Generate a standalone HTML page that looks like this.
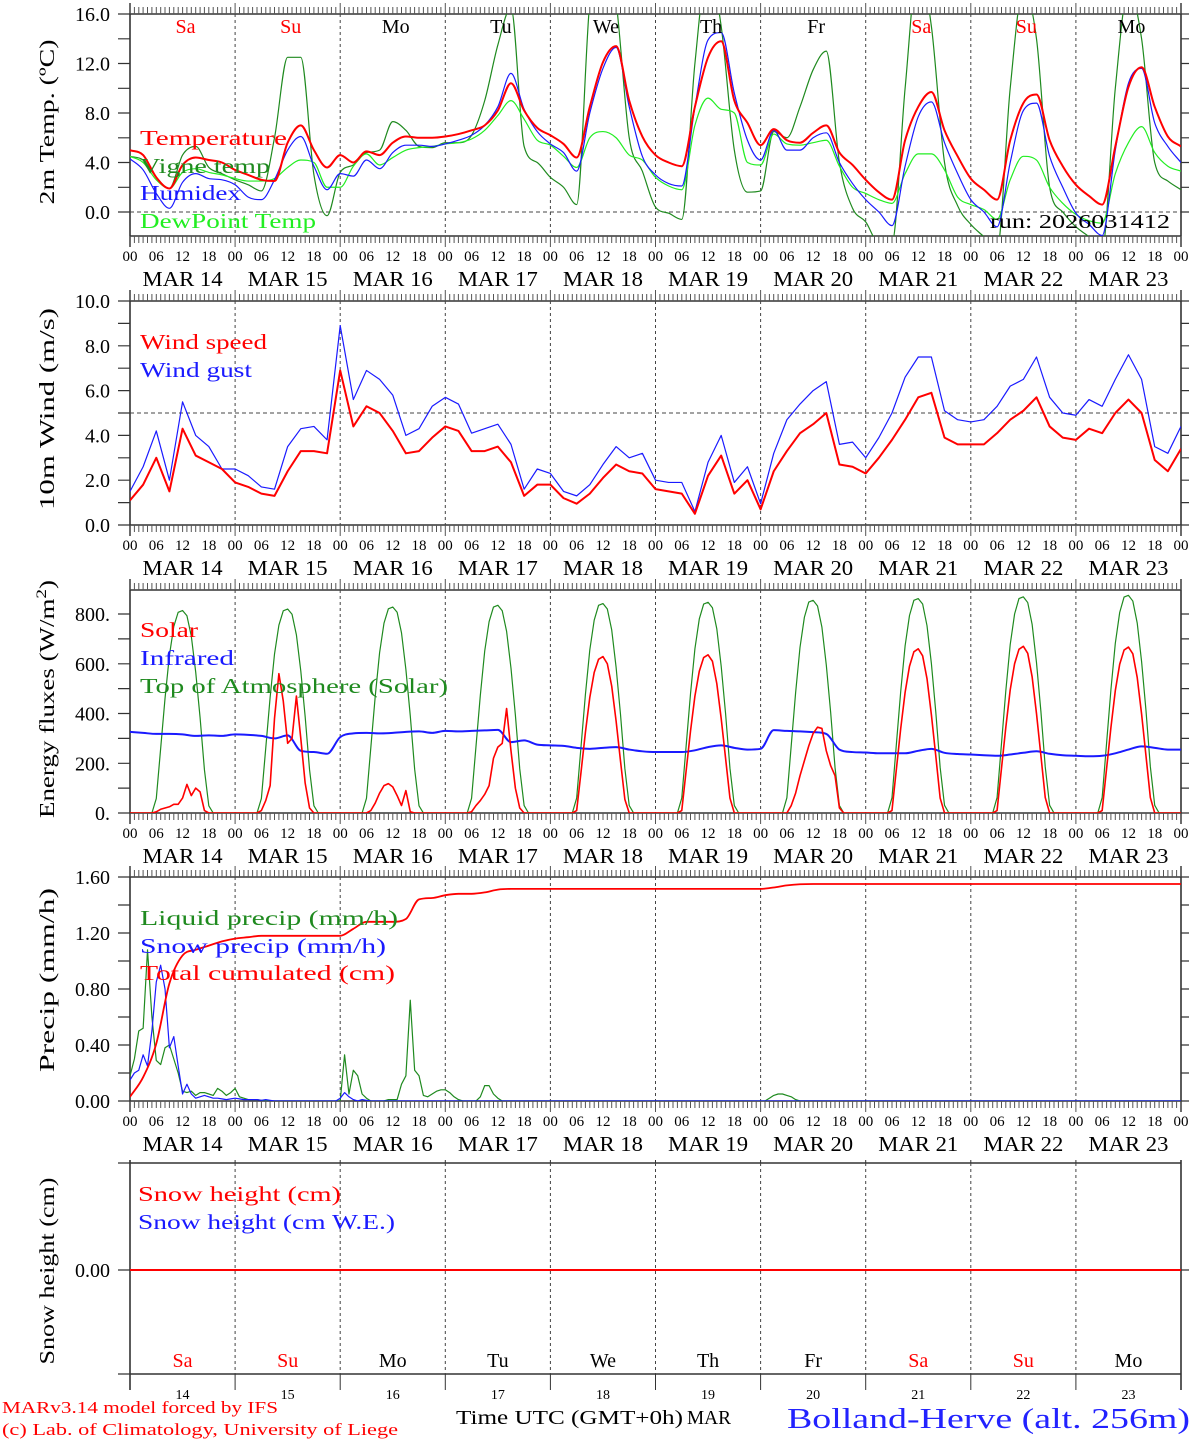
<!DOCTYPE html>
<html><head><meta charset="utf-8"><title>MAR forecast Bolland-Herve</title>
<style>
html,body{margin:0;padding:0;background:#fff;}
svg{display:block;font-family:"Liberation Serif",serif;}
</style></head>
<body>
<svg id="chart" width="1194" height="1440" viewBox="0 0 1194 1440" xmlns="http://www.w3.org/2000/svg">
<rect x="0" y="0" width="1194" height="1440" fill="#fff"/>
<defs id="defs"></defs>
</svg>
<script>
// ===== DATA (3-hourly, from 00 UTC MAR 14 to 00 UTC MAR 24) =====
const days = ["14","15","16","17","18","19","20","21","22","23"];
const dayNames = ["Sa","Su","Mo","Tu","We","Th","Fr","Sa","Su","Mo"];
const hourLabels = ["00","06","12","18"];
const tempTicks = ["0.0","4.0","8.0","12.0","16.0"];
const windTicks = ["0.0","2.0","4.0","6.0","8.0","10.0"];
const fluxTicks = ["0.","200.","400.","600.","800."];
const precipTicks = ["0.00","0.40","0.80","1.20","1.60"];

const temperature = [5.0,4.6,2.8,1.9,3.8,4.4,4.2,4.0,
3.4,3.0,2.6,2.5,5.6,7.0,5.0,3.6,
4.6,4.0,4.9,4.6,5.6,6.1,6.0,6.0,
6.1,6.3,6.6,7.0,8.2,10.4,8.2,6.8,
6.2,5.5,4.4,8.5,12.1,13.4,9.0,6.1,
4.6,4.0,3.7,8.5,12.5,13.8,9.0,7.2,
5.4,6.7,5.8,5.6,6.4,7.0,4.8,3.8,
2.6,1.6,1.0,5.8,8.5,9.7,6.6,4.5,
2.7,1.8,1.0,5.8,8.8,9.5,5.8,3.7,
2.2,1.3,0.6,5.3,10.1,11.7,8.5,6.1,
5.3];
const vigneTemp = [4.5,4.2,2.8,1.9,4.6,5.3,3.6,3.1,
2.6,2.2,1.7,6.0,12.5,12.5,3.0,-0.3,
3.2,3.8,4.8,5.0,7.3,6.6,5.3,5.2,
5.6,5.6,6.2,9.0,13.5,16.5,5.3,4.0,
2.8,2.0,0.6,17.0,22.0,17.0,6.0,3.3,
0.4,-0.1,-0.6,12.0,20.0,15.0,5.0,1.6,
1.7,6.5,6.0,8.5,11.5,13.0,4.0,0.3,
-0.8,-2.5,-2.5,10.0,20.0,15.0,4.0,0.5,
-1.0,-2.0,-3.0,10.0,18.0,14.0,2.0,0.0,
-1.2,-2.0,-3.0,10.0,18.0,14.0,4.0,2.5,
1.8];
const humidex = [4.3,3.4,1.5,0.3,2.4,3.1,2.7,2.6,
2.2,1.2,1.0,2.6,5.0,6.1,3.7,1.8,
3.1,2.9,4.2,3.5,4.8,5.4,5.4,5.3,
5.5,5.8,6.2,7.0,8.5,11.2,8.3,6.5,
5.5,4.8,3.3,8.0,11.6,13.3,8.5,4.5,
3.0,2.3,2.1,8.5,13.9,14.5,9.6,5.8,
4.2,6.6,5.0,5.0,6.0,6.4,4.0,2.3,
1.0,0.0,-1.1,3.7,7.7,8.9,5.6,3.1,
1.0,0.0,-1.2,4.0,8.2,8.8,4.5,2.0,
-0.1,-1.0,-1.9,5.0,10.4,11.6,7.2,5.3,
4.0];
const dewPoint = [4.5,4.0,2.6,1.9,3.2,3.5,3.2,3.0,
2.7,2.5,2.5,2.7,3.6,4.2,4.0,2.0,
2.0,3.7,4.7,3.8,4.4,5.0,5.2,5.3,
5.5,5.6,5.9,6.6,7.8,9.0,7.5,5.8,
5.4,4.5,3.6,6.0,6.5,6.0,4.6,4.2,
2.8,2.1,1.8,7.0,9.2,8.3,8.0,4.0,
3.8,6.3,5.5,5.4,5.6,5.8,3.7,2.0,
1.5,1.0,0.7,3.1,4.7,4.7,3.4,1.2,
0.6,0.2,-0.6,2.6,4.5,4.2,2.0,0.7,
-0.2,-0.7,-0.9,3.1,5.6,6.9,4.8,3.7,
3.3];
const windSpeed = [1.1,1.8,3.0,1.5,4.3,3.1,2.8,2.5,
1.9,1.7,1.4,1.3,2.4,3.3,3.3,3.2,
6.9,4.4,5.3,5.0,4.2,3.2,3.3,3.9,
4.4,4.2,3.3,3.3,3.5,2.8,1.3,1.8,
1.8,1.2,0.95,1.4,2.1,2.7,2.4,2.3,
1.6,1.5,1.4,0.5,2.2,3.1,1.4,2.0,
0.7,2.4,3.3,4.1,4.5,5.0,2.7,2.6,
2.3,3.0,3.8,4.7,5.7,5.9,3.9,3.6,
3.6,3.6,4.1,4.7,5.1,5.7,4.4,3.9,
3.8,4.3,4.1,5.0,5.6,5.0,2.9,2.4,
3.4];
const windGust = [1.5,2.6,4.2,2.0,5.5,4.0,3.5,2.5,
2.5,2.2,1.7,1.6,3.5,4.3,4.4,3.8,
8.9,5.6,6.9,6.5,5.8,4.0,4.3,5.3,
5.7,5.4,4.1,4.3,4.5,3.6,1.6,2.5,
2.3,1.5,1.3,1.8,2.7,3.5,3.0,3.2,
2.0,1.9,1.9,0.6,2.8,4.0,1.9,2.6,
0.95,3.2,4.7,5.4,6.0,6.4,3.6,3.7,
3.0,3.9,5.0,6.6,7.5,7.5,5.1,4.7,
4.6,4.7,5.3,6.2,6.5,7.5,5.7,5.0,
4.9,5.6,5.3,6.5,7.6,6.5,3.5,3.2,
4.4];
const infrared = [326,322,318,318,316,310,312,310,
316,314,310,300,312,250,245,238,
305,320,322,320,322,326,328,322,
330,328,330,332,334,285,292,275,
272,270,262,258,262,265,255,248,
245,245,245,252,265,272,262,255,
258,333,330,328,325,318,255,245,
243,240,240,240,250,258,242,237,
235,232,230,235,242,248,238,232,
230,228,230,240,255,268,262,255,
255];
const totalCumulated = [0.03,0.17,0.41,0.84,1.04,1.08,1.11,1.14,
1.16,1.17,1.18,1.18,1.18,1.18,1.18,1.18,
1.18,1.23,1.28,1.28,1.28,1.30,1.44,1.45,
1.47,1.48,1.48,1.49,1.51,1.515,1.515,1.515,
1.515,1.515,1.515,1.515,1.515,1.515,1.515,1.515,
1.515,1.515,1.515,1.515,1.515,1.515,1.515,1.515,
1.515,1.525,1.54,1.548,1.55,1.55,1.55,1.55,
1.55,1.55,1.55,1.55,1.55,1.55,1.55,1.55,
1.55,1.55,1.55,1.55,1.55,1.55,1.55,1.55,
1.55,1.55,1.55,1.55,1.55,1.55,1.55,1.55,
1.55];
// Hourly daylight values, hours 05..19 of each day (W/m2)
const solarDaylight = [
[0,5,15,20,25,35,35,60,115,70,100,85,10,0,0],
[0,10,50,110,380,560,450,280,300,470,300,120,20,0,0],
[0,0,10,40,80,110,118,105,70,30,90,5,0,0,0],
[0,5,30,50,75,110,220,265,280,420,250,100,20,0,0],
[0,10,165,325,465,565,618,629,600,510,370,210,55,0,0],
[0,10,170,330,470,570,625,636,610,520,380,220,60,0,0],
[0,0,30,80,150,210,270,320,345,340,250,190,150,20,0],
[0,10,175,340,485,590,648,660,632,540,395,230,60,0,0],
[0,10,178,345,495,600,658,670,642,548,400,232,62,0,0],
[0,10,177,344,492,598,655,667,640,545,398,230,62,0,0]];
const toaDaylight = [
[0,58,259,461,634,750,807,814,793,711,567,384,173,29,0],
[0,58,261,465,639,755,813,820,799,716,571,387,174,29,0],
[0,59,264,469,645,763,821,828,807,724,577,391,176,29,0],
[0,59,266,473,651,769,828,835,813,730,582,394,177,30,0],
[0,60,268,477,656,775,835,842,820,736,586,398,179,30,0],
[0,60,270,480,660,780,840,847,825,740,590,400,180,30,0],
[0,61,272,484,666,787,848,855,832,747,595,404,182,30,0],
[0,61,275,489,672,794,855,862,840,753,601,407,183,31,0],
[0,62,277,492,677,800,862,869,846,759,605,410,185,31,0],
[0,62,279,496,682,806,868,875,852,764,609,413,186,31,0]];
// Hourly precipitation (mm/h), one row per day (24 values)
const liquidPrecip = [
[0.18,0.30,0.50,0.52,1.08,0.60,0.29,0.26,0.38,0.40,0.30,0.20,0.07,0.06,0.07,0.04,0.06,0.06,0.05,0.04,0.09,0.07,0.04,0.06],
[0.09,0.03,0.02,0.01,0.01,0.01,0.005,0,0,0,0,0,0,0,0,0,0,0,0,0,0,0,0,0],
[0,0.33,0.05,0.22,0.18,0.05,0.02,0,0,0,0,0.01,0.01,0.01,0.12,0.18,0.72,0.22,0.18,0.04,0.03,0.05,0.07,0.08],
[0.08,0.06,0.03,0.01,0,0,0,0,0.03,0.11,0.11,0.05,0.02,0,0,0,0,0,0,0,0,0,0,0],
[0,0,0,0,0,0,0,0,0,0,0,0,0,0,0,0,0,0,0,0,0,0,0,0],
[0,0,0,0,0,0,0,0,0,0,0,0,0,0,0,0,0,0,0,0,0,0,0,0],
[0,0,0.02,0.04,0.05,0.05,0.04,0.03,0.01,0,0,0,0,0,0,0,0,0,0,0,0,0,0,0],
[0,0,0,0,0,0,0,0,0,0,0,0,0,0,0,0,0,0,0,0,0,0,0,0],
[0,0,0,0,0,0,0,0,0,0,0,0,0,0,0,0,0,0,0,0,0,0,0,0],
[0,0,0,0,0,0,0,0,0,0,0,0,0,0,0,0,0,0,0,0,0,0,0,0]];
const snowPrecip = [
[0.15,0.20,0.22,0.33,0.25,0.50,0.85,0.97,0.80,0.38,0.46,0.25,0.05,0.12,0.05,0.02,0.03,0.04,0.03,0.02,0.02,0.015,0.01,0.015],
[0.02,0.015,0.01,0.01,0.01,0.01,0.005,0.01,0.005,0,0,0,0,0,0,0,0,0,0,0,0,0,0,0],
[0.02,0.06,0.03,0.01,0,0.01,0.005,0,0,0,0,0,0,0,0,0,0,0,0,0,0,0,0,0],
[0,0,0,0,0,0,0,0,0,0,0,0,0,0,0,0,0,0,0,0,0,0,0,0],
[0,0,0,0,0,0,0,0,0,0,0,0,0,0,0,0,0,0,0,0,0,0,0,0],
[0,0,0,0,0,0,0,0,0,0,0,0,0,0,0,0,0,0,0,0,0,0,0,0],
[0,0,0,0,0,0,0,0,0,0,0,0,0,0,0,0,0,0,0,0,0,0,0,0],
[0,0,0,0,0,0,0,0,0,0,0,0,0,0,0,0,0,0,0,0,0,0,0,0],
[0,0,0,0,0,0,0,0,0,0,0,0,0,0,0,0,0,0,0,0,0,0,0,0],
[0,0,0,0,0,0,0,0,0,0,0,0,0,0,0,0,0,0,0,0,0,0,0,0]];
const snowHeight = [0,0,0,0,0,0,0,0,0,0,0];

// ===== RENDERING =====
const NS = 'http://www.w3.org/2000/svg';
const svg = document.getElementById('chart');
const defs = document.getElementById('defs');
const X0 = 130, X1 = 1181;
const RED = '#ff0000', BLUE = '#1a1aff', DKGREEN = '#1f8a1f', LIME = '#22ee22', AX = '#333';
function xAt(h){ return X0 + (X1 - X0) * h / 240; }
function mk(tag, attrs, parent){
  const e = document.createElementNS(NS, tag);
  for (const k in attrs) e.setAttribute(k, attrs[k]);
  (parent || svg).appendChild(e);
  return e;
}
function scale(p){ return v => p.y0 + (v - p.v0) * (p.y1 - p.y0) / (p.v1 - p.v0); }

const panels = [
  {id:'temp', top:14, bot:236, v0:0, y0:212, v1:16, y1:14},
  {id:'wind', top:301, bot:525, v0:0, y0:525, v1:10, y1:301},
  {id:'flux', top:590, bot:813, v0:0, y0:813, v1:800, y1:614},
  {id:'precip', top:877, bot:1101, v0:0, y0:1101, v1:1.6, y1:877},
  {id:'snow', top:1163, bot:1374, v0:0, y0:1270, v1:1, y1:1170}
];
panels.forEach(p => {
  const cp = mk('clipPath', {id:'clip-' + p.id}, defs);
  mk('rect', {x:X0, y:p.top, width:X1 - X0, height:p.bot - p.top}, cp);
});

function monoPath(pts){
  const n = pts.length;
  if (n < 2) return '';
  const m = [], t = [];
  for (let i = 0; i < n - 1; i++) m.push((pts[i+1][1] - pts[i][1]) / (pts[i+1][0] - pts[i][0]));
  t[0] = m[0]; t[n-1] = m[n-2];
  for (let i = 1; i < n - 1; i++) t[i] = (m[i-1] * m[i] <= 0) ? 0 : (m[i-1] + m[i]) / 2;
  for (let i = 0; i < n - 1; i++) {
    if (m[i] === 0) { t[i] = 0; t[i+1] = 0; continue; }
    const a = t[i] / m[i], b = t[i+1] / m[i], s = a*a + b*b;
    if (s > 9) { const tau = 3 / Math.sqrt(s); t[i] = tau * a * m[i]; t[i+1] = tau * b * m[i]; }
  }
  let d = 'M' + pts[0][0].toFixed(2) + ',' + pts[0][1].toFixed(2);
  for (let i = 0; i < n - 1; i++) {
    const dx = (pts[i+1][0] - pts[i][0]) / 3;
    d += ' C' + (pts[i][0] + dx).toFixed(2) + ',' + (pts[i][1] + t[i]*dx).toFixed(2) + ' ' +
         (pts[i+1][0] - dx).toFixed(2) + ',' + (pts[i+1][1] - t[i+1]*dx).toFixed(2) + ' ' +
         pts[i+1][0].toFixed(2) + ',' + pts[i+1][1].toFixed(2);
  }
  return d;
}
function linePath(pts){ return pts.map((q, i) => (i ? 'L' : 'M') + q[0].toFixed(2) + ',' + q[1].toFixed(2)).join(' '); }
function pts3h(p, arr){ const y = scale(p); return arr.map((v, i) => [xAt(i * 3), y(v)]); }
function ptsHourlyRows(p, rows){
  const y = scale(p), out = [];
  rows.forEach((row, d) => row.forEach((v, h) => out.push([xAt(d * 24 + h), y(v)])));
  out.push([xAt(240), y(0)]);
  return out;
}
function ptsDaylight(p, rows){
  const y = scale(p), out = [[xAt(0), y(0)]];
  rows.forEach((row, d) => row.forEach((v, j) => out.push([xAt(d * 24 + 5 + j), y(v)])));
  out.push([xAt(240), y(0)]);
  return out;
}
function series(p, d, color, w, name){
  const e = mk('path', {d:d, fill:'none', stroke:color, 'stroke-width':w, 'stroke-linejoin':'round', 'clip-path':'url(#clip-' + p.id + ')'});
  
  
  return e;
}
function text(x, y, s, size, color, anchor, len){
  const e = mk('text', {x:x, y:y, 'font-size':size, fill:color || '#000', 'text-anchor':anchor || 'start'});
  if (len) { e.setAttribute('textLength', len); e.setAttribute('lengthAdjust', 'spacingAndGlyphs'); }
  e.textContent = s;
  return e;
}

// ---- axes / frames ----
function drawFrame(p, hourly){
  let d = 'M' + X0 + ',' + p.top + ' H' + X1 + ' M' + X0 + ',' + p.bot + ' H' + X1 +
          ' M' + X0 + ',' + (p.top - (hourly ? 11 : 3)) + ' V' + (p.bot + (hourly ? 11 : 16)) +
          ' M' + X1 + ',' + (p.top - (hourly ? 11 : 3)) + ' V' + (p.bot + (hourly ? 11 : 16));
  const f = mk('path', {d:d, stroke:AX, 'stroke-width':1.6, fill:'none'});
  
  
  let dd = '';
  for (let k = 1; k < 10; k++) { const x = xAt(k * 24).toFixed(1); dd += 'M' + x + ',' + p.top + ' V' + p.bot + ' '; }
  const ds = mk('path', {d:dd, stroke:'#444', 'stroke-width':1, 'stroke-dasharray':'3,3', fill:'none'});
  
  
  if (hourly) {
    let t = '';
    for (let h = 0; h <= 240; h++) {
      const x = xAt(h).toFixed(1), L = (h % 24 === 0) ? 11 : 7;
      t += 'M' + x + ',' + p.top + ' V' + (p.top - L) + ' M' + x + ',' + p.bot + ' V' + (p.bot + L) + ' ';
    }
    const tk = mk('path', {d:t, stroke:'#555', 'stroke-width':1, fill:'none'});
    
    
  } else {
    let t = '';
    for (let k = 1; k < 10; k++) { const x = xAt(k * 24).toFixed(1); t += 'M' + x + ',' + p.bot + ' V' + (p.bot + 16) + ' M' + x + ',' + p.top + ' V' + (p.top - 3) + ' '; }
    const tk = mk('path', {d:t, stroke:AX, 'stroke-width':1, fill:'none'});
    
    
  }
}
function drawYTicks(p, step, maxV, labels, labelStep){
  const y = scale(p);
  let d = '';
  for (let v = 0; v <= maxV + 1e-9; v += step) {
    const yy = y(v).toFixed(1);
    d += 'M' + (X0 - 12) + ',' + yy + ' H' + X0 + ' M' + X1 + ',' + yy + ' H' + (X1 + 8) + ' ';
  }
  const tk = mk('path', {d:d, stroke:AX, 'stroke-width':1.2, fill:'none'});
  
  
  labels.forEach((s, i) => {
    const t = text(110, y(i * labelStep) + 7, s, 20, '#000', 'end');
    
    
  });
}
function drawTimeLabels(p){
  for (let k = 0; k < 10; k++) {
    hourLabels.forEach((s, j) => {
      const t = text(xAt(k * 24 + j * 6), p.bot + 25, s, 15, '#000', 'middle');
      
      
    });
    const dt = text(xAt(k * 24 + 12), p.bot + 50, 'MAR ' + days[k], 21, '#000', 'middle', 80);
    
    
  }
  const t = text(xAt(240), p.bot + 25, '00', 15, '#000', 'middle');
  
  
}
function yTitle(cy, s, len, name){
  const t = mk('text', {x:0, y:0, 'font-size':21, fill:'#000', 'text-anchor':'middle',
    transform:'translate(54,' + cy + ') rotate(-90)', textLength:len, lengthAdjust:'spacingAndGlyphs'});
  t.textContent = s;
  
  
  return t;
}
function hDashed(p, v, name){
  const yy = scale(p)(v);
  const e = mk('line', {x1:X0, x2:X1, y1:yy, y2:yy, stroke:'#444', 'stroke-width':1, 'stroke-dasharray':'4,3'});
  
  
}
function legend(x, y, s, color, len, name){
  const t = text(x, y, s, 21, color, 'start', len);
  
  
}

// ---- Panel 1: temperature ----
const P1 = panels[0];
drawFrame(P1, true);
drawYTicks(P1, 2, 16, tempTicks, 4);
hDashed(P1, 0, 'zero-line');
drawTimeLabels(P1);
yTitle(122, '2m Temp. (ºC)', 165, 'y-axis-title-temp');
series(P1, monoPath(pts3h(P1, vigneTemp)), DKGREEN, 1.2, 'vigne-temp-line');
series(P1, monoPath(pts3h(P1, dewPoint)), LIME, 1.2, 'dewpoint-line');
series(P1, monoPath(pts3h(P1, humidex)), BLUE, 1.2, 'humidex-line');
series(P1, monoPath(pts3h(P1, temperature)), RED, 2, 'temperature-line');
legend(140, 145, 'Temperature', RED, 147, 'legend-temperature');
legend(140, 173, 'Vigne temp', DKGREEN, 130, 'legend-vigne-temp');
legend(140, 200, 'Humidex', BLUE, 101, 'legend-humidex');
legend(140, 228, 'DewPoint Temp', LIME, 176, 'legend-dewpoint');
const run = text(990, 228, 'run: 2026031412', 20, '#000', 'start', 180);


dayNames.forEach((s, k) => {
  const c = (s === 'Sa' || s === 'Su') ? RED : '#000';
  const t = text(xAt(k * 24 + 12) + 3, 33, s, 20, c, 'middle');
  
  
});

// ---- Panel 2: wind ----
const P2 = panels[1];
drawFrame(P2, true);
drawYTicks(P2, 1, 10, windTicks, 2);
hDashed(P2, 5, 'wind-5ms-line');
drawTimeLabels(P2);
yTitle(409, '10m Wind (m/s)', 202, 'y-axis-title-wind');
series(P2, linePath(pts3h(P2, windGust)), BLUE, 1.2, 'wind-gust-line');
series(P2, linePath(pts3h(P2, windSpeed)), RED, 2, 'wind-speed-line');
legend(140, 349, 'Wind speed', RED, 127, 'legend-wind-speed');
legend(140, 377, 'Wind gust', BLUE, 112, 'legend-wind-gust');

// ---- Panel 3: energy fluxes ----
const P3 = panels[2];
drawFrame(P3, true);
drawYTicks(P3, 100, 800, fluxTicks, 200);
drawTimeLabels(P3);
(function(){
  const t = mk('text', {x:0, y:0, 'font-size':21, fill:'#000', 'text-anchor':'middle', transform:'translate(54,699) rotate(-90)', textLength:238, lengthAdjust:'spacingAndGlyphs'});
  
  
  const a = mk('tspan', {}, t); a.textContent = 'Energy fluxes (W/m';
  const b = mk('tspan', {'baseline-shift':'super', 'font-size':15}, t); b.textContent = '2';
  const c = mk('tspan', {}, t); c.textContent = ')';
})();
series(P3, linePath(ptsDaylight(P3, toaDaylight)), DKGREEN, 1.2, 'toa-solar-line');
series(P3, monoPath(pts3h(P3, infrared)), BLUE, 2, 'infrared-line');
series(P3, linePath(ptsDaylight(P3, solarDaylight)), RED, 1.6, 'solar-line');
legend(140, 637, 'Solar', RED, 58, 'legend-solar');
legend(140, 665, 'Infrared', BLUE, 94, 'legend-infrared');
legend(140, 693, 'Top of Atmosphere (Solar)', DKGREEN, 308, 'legend-toa');

// ---- Panel 4: precipitation ----
const P4 = panels[3];
drawFrame(P4, true);
drawYTicks(P4, 0.2, 1.6, precipTicks, 0.4);
drawTimeLabels(P4);
yTitle(980, 'Precip (mm/h)', 184, 'y-axis-title-precip');
series(P4, linePath(ptsHourlyRows(P4, liquidPrecip)), DKGREEN, 1.2, 'liquid-precip-line');
series(P4, linePath(ptsHourlyRows(P4, snowPrecip)), BLUE, 1.2, 'snow-precip-line');
series(P4, monoPath(pts3h(P4, totalCumulated)), RED, 1.8, 'total-cumulated-line');
legend(140, 925, 'Liquid precip (mm/h)', DKGREEN, 258, 'legend-liquid-precip');
legend(140, 953, 'Snow precip (mm/h)', BLUE, 246, 'legend-snow-precip');
legend(140, 980, 'Total cumulated (cm)', RED, 255, 'legend-total-cumulated');

// ---- Panel 5: snow height ----
const P5 = panels[4];
drawFrame(P5, false);
(function(){
  const y0 = scale(P5)(0);
  const tk = mk('path', {d:'M' + (X0 - 12) + ',' + y0 + ' H' + X0 + ' M' + X1 + ',' + y0 + ' H' + (X1 + 8) + ' M' + (X0 - 12) + ',' + P5.top + ' H' + X0 + ' M' + (X0 - 12) + ',' + P5.bot + ' H' + X0, stroke:AX, 'stroke-width':1.2, fill:'none'});
  
  
  const t = text(110, y0 + 7, '0.00', 20, '#000', 'end');
  
  
})();
yTitle(1271, 'Snow height (cm)', 187, 'y-axis-title-snow');
series(P5, linePath(snowHeight.map((v, i) => [xAt(i * 24), scale(P5)(v)])), RED, 2, 'snow-height-line');
legend(138, 1201, 'Snow height (cm)', RED, 203, 'legend-snow-height');
legend(138, 1229, 'Snow height (cm W.E.)', BLUE, 257, 'legend-snow-height-we');
dayNames.forEach((s, k) => {
  const c = (s === 'Sa' || s === 'Su') ? RED : '#000';
  const t = text(xAt(k * 24 + 12), 1367, s, 20, c, 'middle');
  
  
  const n = text(xAt(k * 24 + 12), 1399, days[k], 14, '#000', 'middle');
  
  
});

// ---- footer ----
let f;
f = text(2, 1413, 'MARv3.14 model forced by IFS', 17, RED, 'start', 276);


f = text(2, 1435, '(c) Lab. of Climatology, University of Liege', 17, RED, 'start', 396);


f = text(456, 1424, 'Time UTC (GMT+0h)', 20, '#000', 'start', 227);


f = text(687, 1424, 'MAR', 20, '#000', 'start', 44);


f = text(787, 1428, 'Bolland-Herve (alt. 256m)', 29, '#2222ff', 'start', 403);


</script>
</body></html>
